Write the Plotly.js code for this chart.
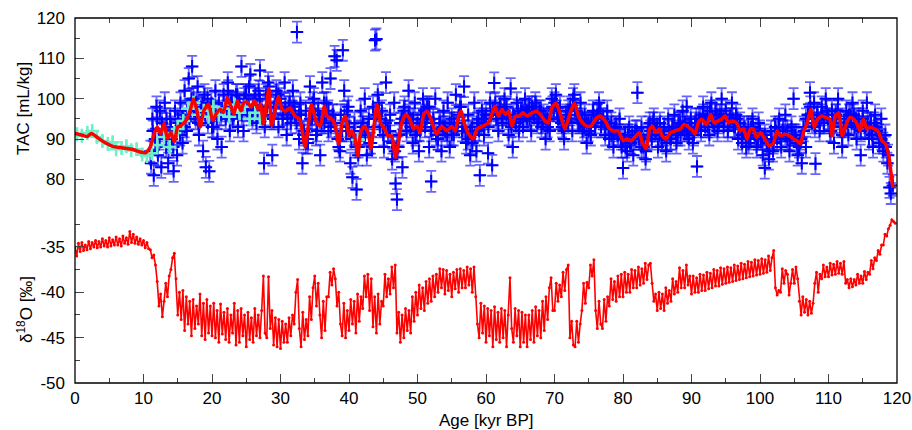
<!DOCTYPE html>
<html><head><meta charset="utf-8">
<script src="https://cdn.plot.ly/plotly-3.0.1.min.js"></script>
<style>body{margin:0;background:#fff}#chart{width:912px;height:430px}</style>
</head><body><div id="chart"></div>
<script>
// ---- TAC, smoothed (red line) ----
const redAge = [0,1,1.8,2.4,3.5,4.5,5.5,7,8.5,9.5,10.3,11,11.5,12,12.5,13,13.5,14,14.5,15,15.5,16.2,16.8,17.3,17.8,18.3,18.8,19.5,20.1,20.6,21.2,21.7,22.2,22.7,23.2,23.7,24.2,24.7,25.2,25.7,26.2,26.7,27.1,27.5,28.0,28.3,28.7,29.2,29.7,30.2,30.7,31.4,32.1,32.8,33.6,34.0,34.5,35.3,35.8,36.4,36.8,37.5,38.0,38.5,39.0,39.5,40.0,40.4,40.9,41.3,41.7,42.2,42.8,43.2,43.7,44.1,44.6,45.2,45.7,46.2,46.8,47.3,47.7,48.3,48.9,49.4,49.9,50.4,50.9,51.4,51.8,52.3,52.8,53.5,54.3,55.0,55.5,56.0,56.4,56.8,57.5,58.1,58.7,59.5,60.2,60.6,61.3,61.8,62.3,62.8,63.3,63.8,64.3,64.9,65.4,66.0,66.7,67.4,68.1,68.6,69.1,69.6,70.2,70.8,71.5,72.3,72.9,73.5,74.1,74.7,75.3,76.0,76.6,77.4,77.9,78.5,79.3,80.0,80.6,81.2,81.7,82.4,82.8,83.4,83.9,84.3,84.8,85.3,85.7,86.3,86.9,87.6,88.4,88.9,89.6,90.2,90.5,91.0,91.5,92.2,92.8,93.3,93.9,94.4,94.9,95.4,95.9,96.6,97.1,97.6,98.1,98.6,99.0,99.5,100.1,100.7,101.3,101.9,102.5,103.0,103.6,104.3,104.9,105.4,105.9,106.4,106.9,107.4,107.9,108.4,109.0,109.6,110.2,110.5,111.0,111.5,112.0,112.5,113.1,113.7,114.1,114.6,115.1,115.6,116.1,116.7,117.2,117.8,118.3,118.8,119.1,119.4];
const redTAC = [91.4,91.0,90.6,91.4,90.1,89.0,88.2,87.8,87.4,86.8,86.6,88.1,91.0,93.0,91.4,93.8,90.1,91.7,89.3,93.0,93.4,94.6,97.0,99.9,97.0,93.0,97.0,98.6,94.6,96.2,97.4,96.6,100.3,98.3,96.2,99.5,97.0,99.1,99.1,97.9,99.5,97.4,98.7,93.8,99.5,102.5,93.4,97.0,100.6,97.5,96.9,97.7,95.7,94.9,88.0,92.5,98.5,94.0,93.2,98.1,95.7,94.9,93.2,88.8,94.0,95.7,90.8,92.0,90.0,85.9,91.6,93.2,91.6,87.6,94.0,98.5,94.0,92.5,90.8,90.8,85.5,90.0,94.0,96.1,94.9,92.5,93.2,91.6,96.1,96.9,95.7,93.2,91.2,93.2,92.0,93.2,92.0,95.7,96.9,94.0,91.2,90.0,92.5,93.2,93.8,94.9,98.1,95.7,97.3,96.1,96.9,93.2,95.7,95.7,96.5,95.7,96.5,96.9,95.7,94.5,94.0,97.7,98.9,96.5,92.5,96.5,98.9,95.7,94.0,93.2,93.2,94.9,95.7,94.5,92.9,92.0,92.0,89.6,90.0,89.6,90.4,91.6,89.2,87.6,92.5,93.2,91.6,92.5,90.8,90.0,91.6,92.0,92.5,93.6,92.9,92.0,91.2,94.0,94.9,93.6,96.1,94.0,94.5,94.9,95.7,94.0,94.5,94.0,92.0,92.5,90.0,92.5,92.5,90.4,91.6,90.0,88.4,88.8,92.0,90.8,91.2,90.8,90.0,89.6,88.8,92.0,94.0,97.3,92.9,94.9,95.7,95.3,94.9,90.8,95.7,96.5,90.8,93.2,95.3,94.9,94.0,92.0,94.9,92.5,92.9,92.5,92.0,89.6,88.8,85.9,81.9,77.9];

// ---- TAC, Holocene/LGM measurements (cyan) ----
const cyanAge = [0.3,1.0,1.8,2.5,3.2,4.0,4.8,5.5,6.0,6.8,7.5,8.2,9.0,9.8,10.5,11.2,12.0,13.0,13.8,14.5,15.0,15.8,16.5,17.3,18.0,18.8,19.5,20.2,21.0,21.8,22.5,23.3,24.0,24.8,25.5,26.3,27.0,41.3];
const cyanTAC = [91.2,90.8,91.5,92.0,90.5,89.5,88.8,89.2,87.5,87.8,88.2,87.2,87.5,86.2,85.8,86.5,88.5,90.5,88.0,91.5,92.5,94.5,97.5,99.0,96.0,97.0,95.5,98.0,96.0,97.5,95.5,98.5,96.5,98.0,95.0,96.5,95.0,89.8];

// ---- TAC, ice core measurements (blue), scattered samples ----
const blueAge = [11.1,11.3,11.5,11.7,11.9,12.1,12.4,12.6,12.9,13.1,13.3,13.6,13.9,14.1,14.4,14.6,14.9,15.1,15.4,15.7,16.0,16.3,16.6,16.9,17.1,17.3,17.6,17.9,18.1,18.4,18.7,18.9,19.1,19.4,19.6,19.9,20.2,20.5,20.8,21.1,21.4,21.7,22.0,22.3,22.6,22.9,23.2,23.5,23.8,24.0,24.3,24.6,24.9,25.1,25.4,25.6,25.9,26.2,26.5,26.8,27.0,27.3,27.6,27.9,28.2,28.5,28.8,29.1,29.4,29.7,30.0,30.3,30.6,30.9,31.2,31.5,31.8,32.1,32.4,32.7,32.9,33.2,33.4,33.7,34.0,34.3,34.6,34.9,35.2,35.5,35.8,36.1,36.4,36.7,37.0,37.3,37.6,37.9,38.2,38.5,38.8,39.1,39.3,39.6,39.9,40.2,40.5,40.8,41.1,41.4,41.7,42.0,42.3,42.6,42.9,43.2,43.5,43.8,44.0,44.2,44.5,44.8,45.1,45.4,45.7,46.0,46.3,46.6,46.8,47.0,47.2,47.5,47.8,48.1,48.4,48.7,49.0,49.3,49.6,49.9,50.2,50.5,50.8,51.1,51.4,51.7,52.0,52.3,52.6,52.9,53.2,53.5,53.8,54.1,54.4,54.7,55.0,55.3,55.6,55.9,56.2,56.5,56.8,57.1,57.4,57.7,58.0,58.3,58.6,58.9,59.1,59.4,59.7,60.0,60.3,60.6,60.9,61.2,61.5,61.8,62.1,62.4,62.7,63.0,63.3,63.6,63.9,64.2,64.5,64.8,65.1,65.4,65.7,66.0,66.3,66.6,66.9,67.2,67.5,67.8,68.1,68.4,68.7,69.0,69.3,69.6,69.9,70.2,70.5,70.8,71.1,71.4,71.7,72.0,72.3,72.6,72.9,73.2,73.5,73.8,74.1,74.4,74.7,75.0,75.3,75.6,75.9,76.2,76.5,76.8,77.1,77.4,77.7,78.0,78.3,78.6,78.9,79.2,79.5,79.8,80.0,80.3,80.6,80.9,81.2,81.5,81.8,82.1,82.4,82.7,83.0,83.3,83.6,83.9,84.2,84.5,84.8,85.1,85.4,85.7,86.0,86.3,86.6,86.9,87.2,87.5,87.8,88.1,88.4,88.7,89.0,89.3,89.6,89.9,90.2,90.5,90.8,91.1,91.4,91.7,92.0,92.3,92.6,92.9,93.2,93.5,93.8,94.1,94.4,94.7,95.0,95.3,95.6,95.9,96.2,96.5,96.8,97.1,97.4,97.7,98.0,98.3,98.6,98.9,99.2,99.5,99.8,100.1,100.4,100.7,101.0,101.3,101.6,101.9,102.2,102.5,102.8,103.1,103.4,103.7,104.0,104.3,104.6,104.9,105.2,105.5,105.8,106.1,106.4,106.7,107.0,107.3,107.6,107.9,108.1,108.4,108.7,109.0,109.3,109.6,109.9,110.2,110.5,110.8,111.1,111.4,111.7,112.0,112.3,112.6,112.9,113.2,113.5,113.8,114.1,114.4,114.7,115.0,115.3,115.6,115.9,116.2,116.5,116.8,117.1,117.4,117.7,118.0,118.3,118.6,118.9,119.1,119.4];
const blueTAC = [84,95,81,90,98,86,97,83,92,99,88,84,95,90,82,97,86,94,99,89,102,92,105,97,108,100,95,103,91,98,87,101,83,94,82,99,93,102,90,96,88,101,95,104,92,99,96,101,93,98,108,92,101,97,103,106,95,100,94,102,107,97,84,101,104,96,86,98,102,93,100,95,104,91,98,94,102,96,116.5,90,99,84,92,97,89,103,95,100,91,97,86,104,94,99,92,105,96,110.5,109.5,88,96,112,102,92,98,84,80.5,94,77.5,88,97,93,100,86,95,89,98,114.5,114.8,101,93,97,88,104,92,96,85,99,79,75,88,94,83,98,92,102,95,89,99,92,87,96,100,93,98,88,79.5,95,100,90,94,87,97,92,99,88,95,91,101,94,98,92,103,89,96,86,93,99,87,95,81,97,91,96,86.5,99,83.5,103.9,95,92,98,94,100,96,91,102.5,88,95,99,92,97,93,100,95,98,92,97,99,94,97,93,96,90,95,92,100,97,101,95,98,93,90,96,94,98,92,101,97,94,99,92,96,89,94,91,97,93,96,99,93,95,91,97,90,94,88,93,91,95,88,82.8,91,87,93,89,86,92,101.5,90,93,88,85,91,94,90,95,92,88,94,90,93,87,95,90,93,96,89,94,91,97,92,98,90,95,89,94,83.2,95,92,98,93,96,91,99,94,97,92,96,100,93,97,92,95,99,93,96,90,94,89,92,88,93,90,95,91,88,94,90,86,82.8,89,85,92,87,93,90,95,88,92,96,90,87,93,100,91,86,89,84,92,88,96,101.5,94,99,83.9,96,92,98,94,100,95,92,97,89,96,100,93,88,94,97,91,96,99,93,90,95,86,97,93,99,90,94,88,96,92,89,95,87,91,84,78,76.5,78.5];

// ---- TAC, ice core measurements (blue), core samples ----
const blueCoreAge = [11,11.35,11.7,12,12.35,12.7,13,13.35,13.7,14,14.35,14.7,15,15.35,15.7,16,16.35,16.7,17,17.35,17.7,18,18.35,18.7,19,19.35,19.7,20,20.35,20.7,21,21.35,21.7,22,22.35,22.7,23,23.35,23.7,24,24.35,24.7,25,25.35,25.7,26,26.35,26.7,27,27.35,27.7,28,28.35,28.7,29,29.35,29.7,30,30.35,30.7,31,31.35,31.7,32,32.35,32.7,33,33.35,33.7,34,34.35,34.7,35,35.35,35.7,36,36.35,36.7,37,37.35,37.7,38,38.35,38.7,39,39.35,39.7,40,40.35,40.7,41,41.35,41.7,42,42.35,42.7,43,43.35,43.7,44,44.35,44.7,45,45.35,45.7,46,46.35,46.7,47,47.35,47.7,48,48.35,48.7,49,49.35,49.7,50,50.35,50.7,51,51.35,51.7,52,52.35,52.7,53,53.35,53.7,54,54.35,54.7,55,55.35,55.7,56,56.35,56.7,57,57.35,57.7,58,58.35,58.7,59,59.35,59.7,60,60.35,60.7,61,61.35,61.7,62,62.35,62.7,63,63.35,63.7,64,64.35,64.7,65,65.35,65.7,66,66.35,66.7,67,67.35,67.7,68,68.35,68.7,69,69.35,69.7,70,70.35,70.7,71,71.35,71.7,72,72.35,72.7,73,73.35,73.7,74,74.35,74.7,75,75.35,75.7,76,76.35,76.7,77,77.35,77.7,78,78.35,78.7,79,79.35,79.7,80,80.35,80.7,81,81.35,81.7,82,82.35,82.7,83,83.35,83.7,84,84.35,84.7,85,85.35,85.7,86,86.35,86.7,87,87.35,87.7,88,88.35,88.7,89,89.35,89.7,90,90.35,90.7,91,91.35,91.7,92,92.35,92.7,93,93.35,93.7,94,94.35,94.7,95,95.35,95.7,96,96.35,96.7,97,97.35,97.7,98,98.35,98.7,99,99.35,99.7,100,100.35,100.7,101,101.35,101.7,102,102.35,102.7,103,103.35,103.7,104,104.35,104.7,105,105.35,105.7,106,106.35,106.7,107,107.35,107.7,108,108.35,108.7,109,109.35,109.7,110,110.35,110.7,111,111.35,111.7,112,112.35,112.7,113,113.35,113.7,114,114.35,114.7,115,115.35,115.7,116,116.35,116.7,117,117.35,117.7,118,118.35,118.7];
const blueCoreTAC = [87,92,90,95,90,94,91,95,88,93,88,92,95,91,96,93,97,95,100,97,99,94,96,99,96,100,97,93,97,95,99,96,98,97,102,99,95,98,101,99,96,100,101,98,96,98,101,97,100,95,93,98,103,95,95,99,101,99,96,98,95,99,97,98,94,96,96,91,89,90,95,99,96,92,95,94,99,96,97,93,96,94,90,87,92,96,97,93,90,91,88,86,92,94,91,93,89,88,95,96,99,95,91,94,92,92,89,87,88,91,95,97,94,96,93,95,91,94,92,95,97,95,98,92,94,91,90,94,93,93,91,94,91,94,93,96,98,93,92,90,92,89,91,94,92,94,95,95,93,96,97,99,96,98,96,97,98,95,93,96,94,97,95,97,96,97,95,98,96,98,95,97,94,95,93,95,98,99,97,95,94,92,95,97,96,100,97,95,94,95,93,94,92,94,96,94,96,97,95,93,94,93,91,92,93,91,90,90,88,91,89,91,90,92,90,88,90,87,93,92,94,92,93,91,90,91,89,92,90,93,92,91,94,93,94,92,93,93,91,95,93,95,96,95,93,97,95,93,96,94,96,95,96,93,95,95,93,95,93,91,93,91,89,93,93,91,90,92,90,91,89,87,90,89,92,93,90,92,91,92,90,91,91,89,88,90,93,95,96,98,95,93,96,94,96,94,97,95,92,94,96,97,95,91,93,94,96,94,96,95,93,92,95,93,94,93,91,94,93,91,90,89,88,86];

// ---- delta 18O (0.25 kyr grid) ----
const d18oStartAge = 0, d18oStep = 0.25;
const d18O = [
-35.0,-36.0,-34.6,-35.5, -34.5,-35.4,-34.8,-35.3, -34.4,-35.2,-34.5,-35.0, -34.3,-35.1,-34.4,-35.0, -34.1,-34.9,-34.3,-35.0,
-34.0,-34.9,-34.2,-34.8, -33.9,-34.8,-34.1,-34.9, -33.8,-34.6,-34.0,-34.7, -33.3,-34.5,-33.6,-34.6, -33.9,-34.7,-34.1,-34.8,
-34.3,-35.1,-34.5,-35.2, -35.3,-36.2,-35.9,-37.0, -38.8,-41.5,-40.2,-42.7, -41.0,-39.0,-40.5,-38.2, -37.5,-36.2,-35.7,-38.5,
-42.5,-40.0,-43.0,-39.8, -44.2,-40.5,-43.5,-41.0, -44.8,-40.8,-44.0,-41.5, -43.5,-40.2,-44.8,-41.2, -45.2,-40.8,-44.5,-41.5,
-44.8,-41.2,-45.0,-42.0, -45.5,-41.3,-44.6,-42.2, -45.2,-41.8,-45.5,-42.5, -44.5,-41.2,-45.8,-42.0, -45.5,-41.8,-44.8,-42.5,
-46.0,-42.2,-45.2,-42.8, -45.5,-41.8,-44.8,-42.5, -45.0,-42.0,-38.2,-44.5, -45.0,-38.3,-44.0,-42.0, -45.8,-42.8,-46.0,-43.0,
-46.2,-43.2,-45.5,-43.5, -45.5,-42.8,-44.8,-42.5, -43.5,-40.0,-38.6,-44.0, -46.0,-42.2,-45.2,-43.0, -44.8,-40.5,-43.0,-39.5,
-38.2,-41.5,-39.0,-42.5, -45.0,-41.0,-44.2,-40.5, -40.5,-37.8,-39.2,-37.4, -38.5,-41.5,-40.0,-43.5, -44.8,-41.2,-45.0,-42.0,
-44.2,-40.8,-43.5,-41.0, -44.5,-40.2,-43.2,-40.5, -41.8,-38.2,-40.5,-38.0, -42.0,-38.5,-43.8,-40.5, -44.5,-40.2,-43.5,-41.0,
-41.5,-38.0,-40.5,-38.5, -40.2,-37.2,-39.5,-37.0, -44.5,-42.2,-45.5,-42.5, -45.0,-41.8,-44.2,-42.0, -44.5,-40.5,-43.2,-40.0,
-42.5,-39.2,-41.8,-39.5, -42.0,-38.8,-41.2,-38.5, -41.0,-38.2,-40.5,-38.0, -40.0,-37.4,-39.5,-37.5, -40.2,-37.6,-39.8,-38.0,
-40.5,-37.8,-39.6,-37.5, -40.0,-37.4,-39.5,-37.6, -39.5,-37.2,-39.2,-37.4, -40.0,-37.2,-40.5,-43.5, -45.0,-41.2,-44.5,-41.5,
-45.5,-41.8,-44.8,-42.0, -46.0,-41.6,-45.2,-42.2, -45.5,-41.8,-45.0,-42.0, -46.0,-42.5,-38.4,-44.0, -45.5,-41.8,-44.8,-42.0,
-46.0,-42.2,-45.5,-42.5, -46.0,-42.5,-45.2,-42.0, -45.5,-41.6,-44.8,-42.0, -45.0,-41.0,-44.2,-40.5, -43.0,-39.5,-38.4,-42.0,
-42.0,-39.0,-41.0,-39.2, -40.5,-37.8,-39.8,-37.5, -37.0,-45.0,-43.2,-45.8, -46.0,-43.2,-45.5,-43.5, -42.0,-39.0,-41.2,-38.9,
-39.5,-37.0,-38.2,-36.4, -42.0,-44.0,-41.0,-43.5, -44.0,-40.8,-43.2,-40.5, -41.5,-38.5,-40.8,-38.8, -41.0,-38.2,-40.5,-38.0,
-40.5,-37.8,-40.0,-38.0, -40.0,-37.5,-39.5,-37.6, -39.5,-37.2,-39.2,-37.4, -39.0,-36.8,-38.6,-37.0, -36.8,-39.0,-41.0,-40.2,
-42.0,-40.0,-41.8,-40.2, -42.0,-39.5,-41.2,-39.8, -41.0,-38.5,-40.2,-38.8, -40.0,-37.3,-39.5,-37.6, -39.5,-37.0,-39.2,-38.2,
-40.2,-38.2,-40.0,-38.4, -40.0,-38.0,-39.8,-38.1, -39.8,-37.8,-39.6,-37.9, -39.5,-37.5,-39.3,-37.6, -39.3,-37.3,-39.1,-37.4,
-39.0,-37.2,-38.9,-37.3, -38.8,-37.0,-38.7,-37.1, -38.6,-36.8,-38.5,-36.9, -38.4,-36.6,-38.3,-36.7, -38.2,-36.4,-38.1,-36.5,
-38.0,-36.3,-37.9,-36.4, -37.8,-36.0,-37.6,-36.2, -35.4,-39.5,-40.3,-39.8, -40.0,-37.4,-39.0,-37.6, -38.0,-40.3,-39.0,-37.5,
-39.0,-37.2,-38.5,-41.0, -42.5,-40.5,-42.2,-40.8, -42.5,-41.0,-42.3,-41.2, -39.0,-37.8,-40.0,-38.0, -38.5,-37.0,-38.3,-37.2,
-38.3,-36.8,-38.1,-36.9, -38.0,-36.6,-37.9,-36.8, -38.0,-36.6,-39.0,-38.6, -39.5,-38.5,-39.4,-38.6, -39.2,-38.0,-39.0,-38.2,
-39.0,-37.7,-38.6,-37.8, -38.0,-36.5,-37.4,-36.2, -36.5,-35.4,-35.8,-34.8, -34.8,-33.6,-33.8,-33.0, -32.6,-32.0,-32.2,-32.4];
const d18oAge = d18O.map((_, i) => d18oStartAge + i * d18oStep);

// ---- ticks ----
const xTicks = [0,10,20,30,40,50,60,70,80,90,100,110,120];
const tacTicks = [80,90,100,110,120];
const tacMinor = [85,95,105,115];
const d18oTicks = [-50,-45,-40,-35];
const d18oTickText = ['-50','-45','-40','-35'];
const d18oMinor = [-47.5,-42.5,-37.5,-32.5];

const FONT = 'Liberation Sans, Arial, sans-serif';
const blueErr = 'rgba(0,0,255,0.6)';
const cyanCol = '#6ef0c6';

function blueTrace(xs, ys) {
  return {x: xs, y: ys, xaxis:'x2', yaxis:'y', type:'scatter', mode:'markers',
   marker:{symbol:'cross-thin', size:9, color:'#0000ff', line:{color:'#0000ff', width:2}},
   error_y:{type:'constant', value:2.6, color:blueErr, thickness:1.8, width:5},
   error_x:{type:'constant', value:0.75, color:blueErr, thickness:1.8, width:0},
   hoverinfo:'skip'};
}

const traces = [
  blueTrace(blueCoreAge, blueCoreTAC),
  blueTrace(blueAge, blueTAC),
  {x: cyanAge, y: cyanTAC, xaxis:'x2', yaxis:'y', type:'scatter', mode:'markers',
   marker:{symbol:'cross-thin', size:10, color:cyanCol, line:{color:cyanCol, width:2.5}},
   error_y:{type:'constant', value:1.6, color:cyanCol, thickness:2, width:0},
   error_x:{type:'constant', value:0.8, color:cyanCol, thickness:2, width:0},
   hoverinfo:'skip'},
  {x: redAge, y: redTAC, xaxis:'x2', yaxis:'y', type:'scatter', mode:'lines',
   line:{color:'#ff0000', width:3.5, shape:'spline', smoothing:0.6}, hoverinfo:'skip'},
  {x: d18oAge, y: d18O, xaxis:'x', yaxis:'y2', type:'scatter', mode:'lines+markers',
   line:{color:'#ff0000', width:1.6}, marker:{color:'#ff0000', size:3}, hoverinfo:'skip'}
];

const tickFont = {family:FONT, size:17, color:'#000'};
const common = {showgrid:false, zeroline:false, showline:false, ticks:'inside', tickcolor:'#444', tickwidth:1};

const layout = {
  width:912, height:430,
  margin:{l:75, r:15, t:18, b:47},
  paper_bgcolor:'#fff', plot_bgcolor:'#fff',
  showlegend:false,
  xaxis: Object.assign({}, common, {domain:[0,1], anchor:'y2', range:[0,120], tickvals:xTicks, ticklen:9,
    tickfont:tickFont, ticklabelstandoff:3, minor:{dtick:5, tick0:0, ticks:'inside', ticklen:5, tickcolor:'#444'}}),
  xaxis2: Object.assign({}, common, {domain:[0,1], anchor:'y', side:'top', range:[0,120], tickvals:xTicks, ticklen:9,
    showticklabels:false, minor:{dtick:5, tick0:0, ticks:'inside', ticklen:5, tickcolor:'#444'}}),
  yaxis: Object.assign({}, common, {domain:[0.46,1], anchor:'x2', range:[71.15,120], tickvals:tacTicks, ticklen:9,
    tickfont:tickFont, ticklabelstandoff:9, minor:{tickmode:'array', tickvals:tacMinor, ticks:'inside', ticklen:5, tickcolor:'#444'}}),
  yaxis2: Object.assign({}, common, {domain:[0,0.46], anchor:'x', range:[-50,-31.49], tickvals:d18oTicks, ticktext:d18oTickText, ticklen:9,
    tickfont:tickFont, ticklabelstandoff:9, minor:{tickmode:'array', tickvals:d18oMinor, ticks:'inside', ticklen:5, tickcolor:'#444'}}),
  shapes:[{type:'rect', xref:'paper', yref:'paper', x0:0, x1:1, y0:0, y1:1, line:{color:'#000', width:1.3}, layer:'above'}],
  annotations:[
    {text:'TAC [mL/kg]', xref:'paper', yref:'paper', x:-0.0633, y:0.7534, textangle:-90, showarrow:false,
     xanchor:'center', yanchor:'middle', font:{family:FONT, size:17, color:'#000'}},
    {text:'δ<sup>18</sup>O [‰]', xref:'paper', yref:'paper', x:-0.0608, y:0.2, textangle:-90, showarrow:false,
     xanchor:'center', yanchor:'middle', font:{family:FONT, size:17, color:'#000'}},
    {text:'Age [kyr BP]', xref:'paper', yref:'paper', x:0.5, y:-0.104, showarrow:false,
     xanchor:'center', yanchor:'middle', font:{family:FONT, size:17, color:'#000'}}
  ]
};

Plotly.newPlot('chart', traces, layout, {staticPlot:true, displayModeBar:false});
</script></body></html>
